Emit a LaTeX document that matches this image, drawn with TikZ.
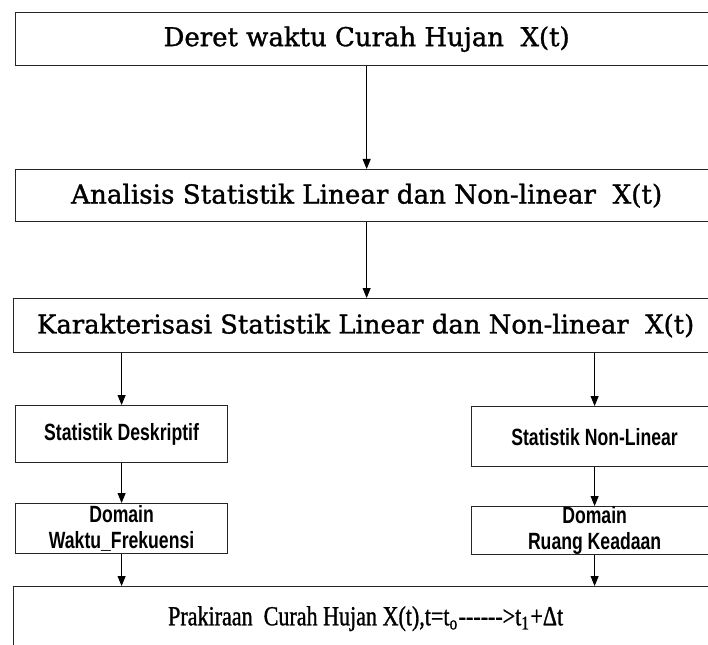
\documentclass[tikz,border=0pt]{standalone}
\usepackage{fontspec}
\usepackage{graphicx}
\setmainfont{Liberation Serif}
\newfontfamily\bookfont[FakeBold=1.2]{DejaVu Serif}
\newfontfamily\timesfont[FakeStretch=0.8,FakeBold=1]{Liberation Serif}
\newfontfamily\narrowsans[FakeStretch=0.75]{Liberation Sans Bold}
\usetikzlibrary{arrows.meta}
\newcommand\hy{\mbox{-}}
\begin{document}
\begin{tikzpicture}[x=1pt,y=-1pt,
  bigbox/.style={draw=black!85, line width=1.3pt, inner sep=0pt, anchor=north west, align=center},
  smallbox/.style={draw=black!85, line width=1.2pt, inner sep=0pt, anchor=north west, align=center,
     font=\narrowsans\fontsize{23.5}{26}\selectfont},
  arr/.style={-{Triangle[width=8pt,length=10pt]}, line width=0.9pt}]
\fill[white] (0,0) rectangle (708,644);
\useasboundingbox (0,0) rectangle (708,644);
\clip (0,0) rectangle (708,644);

\node[bigbox, minimum width=702pt, minimum height=53pt] (B1) at (15,12)
  {\resizebox{406pt}{!}{\bookfont Deret waktu Curah Hujan\ \ X(t)}};
\node[bigbox, minimum width=702pt, minimum height=52pt] (B2) at (15,169)
  {\resizebox{591pt}{!}{\bookfont Analisis Statistik Linear dan Non-linear\ \ X(t)}};
\node[bigbox, minimum width=704pt, minimum height=54pt] (B3) at (13,298)
  {\resizebox{657pt}{!}{\bookfont Karakterisasi Statistik Linear dan Non-linear\ \ X(t)}};

\node[smallbox, minimum width=212pt, minimum height=57pt] (L1) at (15,405) {Statistik Deskriptif};
\node[smallbox, minimum width=246pt, minimum height=60pt] (R1) at (471,406) {Statistik Non-Linear};
\node[smallbox, minimum width=212pt, minimum height=50pt] (L2) at (15,503) {Domain\\Waktu\_Frekuensi};
\node[smallbox, minimum width=246pt, minimum height=48pt] (R2) at (471,506) {Domain\\Ruang Keadaan};

\node[bigbox, minimum width=704pt, minimum height=64pt] (P) at (13,586)
  {\resizebox{395pt}{!}{\timesfont Prakiraan\ \ Curah Hujan X(t),t=t\textsubscript{o}\hy\hy\hy\hy\hy\hy>t\textsubscript{1}+Δt}};

\draw[arr] (B1.south) -- (B2.north);
\draw[arr] (B2.south) -- (B3.north -| B2.south);
\draw[arr] (B3.south -| L1.north) -- (L1.north);
\draw[arr] (B3.south -| R1.north) -- (R1.north);
\draw[arr] (L1.south) -- (L2.north);
\draw[arr] (R1.south) -- (R2.north);
\draw[arr] (L2.south) -- (P.north -| L2.south);
\draw[arr] (R2.south) -- (P.north -| R2.south);
\end{tikzpicture}
\end{document}
